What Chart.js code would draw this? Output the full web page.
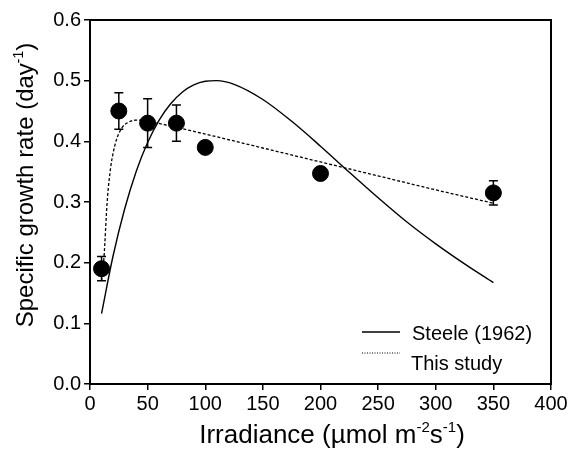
<!DOCTYPE html>
<html>
<head>
<meta charset="utf-8">
<script src="https://cdn.jsdelivr.net/npm/chart.js@4/dist/chart.umd.min.js"></script>
<style>
html,body{margin:0;padding:0;background:#fff;}
#wrap{width:570px;height:452px;position:relative;}
</style>
</head>
<body>
<div id="wrap"><canvas id="c" width="570" height="452"></canvas></div>
<script>
// ---- data ----
const obsX = [10, 25, 50, 75, 100, 200, 350];
const obsY = [0.19, 0.45, 0.43, 0.43, 0.39, 0.347, 0.315];
const errLow = [0.17, 0.42, 0.39, 0.40, 0.39, 0.347, 0.295];
const errHigh = [0.21, 0.48, 0.47, 0.46, 0.39, 0.347, 0.335];

const steeleX = [10, 20, 30, 40, 50, 60, 70, 80, 90, 100, 110, 125, 150, 175, 200, 225, 250, 275, 300, 325, 350];
const steeleY = [0.116, 0.211, 0.288, 0.350, 0.398, 0.435, 0.462, 0.481, 0.493, 0.499, 0.500, 0.494, 0.469, 0.433, 0.392, 0.349, 0.307, 0.267, 0.231, 0.198, 0.167];

const studyX = [10, 12, 15, 18, 20, 23, 28, 33, 40, 50, 75, 100, 150, 200, 250, 300, 350];
const studyY = [0.17, 0.205, 0.303, 0.358, 0.38, 0.403, 0.423, 0.431, 0.435, 0.433, 0.423, 0.412, 0.389, 0.366, 0.343, 0.32, 0.298];

const xTicks = [0, 50, 100, 150, 200, 250, 300, 350, 400];
const yTicks = [0.0, 0.1, 0.2, 0.3, 0.4, 0.5, 0.6];

const seriesNames = ['Steele (1962)', 'This study'];

const FONT = "'Liberation Sans', Arial, Helvetica, sans-serif";

function pts(xs, ys){ return xs.map((x,i)=>({x:x, y:ys[i]})); }

function measureRich(ctx, segs, size, supSize){
  let w = 0;
  segs.forEach(s=>{
    ctx.font = (s.sup ? supSize : size) + 'px ' + FONT;
    w += ctx.measureText(s.t).width;
  });
  return w;
}
function paintRich(ctx, segs, x, y, size, supSize, supRise){
  let cx = x;
  segs.forEach(s=>{
    ctx.font = (s.sup ? supSize : size) + 'px ' + FONT;
    ctx.fillText(s.t, cx, s.sup ? y - supRise : y);
    cx += ctx.measureText(s.t).width;
  });
}

const extras = {
  id: 'extras',
  afterDatasetsDraw(chart){
    const ctx = chart.ctx;
    const xs = chart.scales.x, ys = chart.scales.y;
    ctx.save();
    ctx.strokeStyle = '#000';
    ctx.lineWidth = 1.5;
    obsX.forEach((xv,i)=>{
      if (errHigh[i] === errLow[i]) return;
      const px = xs.getPixelForValue(xv);
      const t = ys.getPixelForValue(errHigh[i]);
      const b = ys.getPixelForValue(errLow[i]);
      ctx.beginPath();
      ctx.moveTo(px, t); ctx.lineTo(px, b);
      ctx.moveTo(px-4.5, t); ctx.lineTo(px+4.5, t);
      ctx.moveTo(px-4.5, b); ctx.lineTo(px+4.5, b);
      ctx.stroke();
    });
    ctx.restore();
  },
  afterDraw(chart){
    const ctx = chart.ctx;
    const a = chart.chartArea;
    ctx.save();
    ctx.strokeStyle = '#000';
    ctx.lineWidth = 2;
    ctx.strokeRect(a.left, a.top, a.right - a.left, a.bottom - a.top);

    ctx.fillStyle = '#000';
    ctx.textBaseline = 'alphabetic';
    ctx.textAlign = 'left';
    // x title
    const xSegs = [{t:'Irradiance (\u00b5mol m'},{t:'-2',sup:true},{t:'s'},{t:'-1',sup:true},{t:')'}];
    const xw = measureRich(ctx, xSegs, 26, 15);
    paintRich(ctx, xSegs, 332 - xw/2, 443, 26, 15, 11);
    // y title
    const ySegs = [{t:'Specific growth rate (day'},{t:'-1',sup:true},{t:')'}];
    const yw = measureRich(ctx, ySegs, 24, 14);
    ctx.translate(33, 185);
    ctx.rotate(-Math.PI/2);
    paintRich(ctx, ySegs, -yw/2, 0, 24, 14, 10);
    ctx.restore();

    // legend
    ctx.save();
    ctx.strokeStyle = '#000';
    ctx.lineWidth = 1.6;
    ctx.beginPath(); ctx.moveTo(362, 332); ctx.lineTo(400, 332); ctx.stroke();
    ctx.lineWidth = 1.2;
    ctx.setLineDash([1,1.5]);
    ctx.beginPath(); ctx.moveTo(362, 353); ctx.lineTo(400, 353); ctx.stroke();
    ctx.setLineDash([]);
    ctx.fillStyle = '#000';
    ctx.font = '20px ' + FONT;
    ctx.textBaseline = 'alphabetic';
    ctx.fillText(seriesNames[0], 412, 340);
    ctx.fillText(seriesNames[1], 411, 370);
    ctx.restore();
  }
};

new Chart(document.getElementById('c'), {
  data: {
    datasets: [
      { type:'line', label: seriesNames[0], data: pts(steeleX, steeleY), borderColor:'#000', borderWidth:1.4, pointRadius:0, fill:false, cubicInterpolationMode:'monotone', order:3 },
      { type:'line', label: seriesNames[1], data: pts(studyX, studyY), borderColor:'#000', borderWidth:1.3, borderDash:[3,2], pointRadius:0, fill:false, cubicInterpolationMode:'monotone', order:2 },
      { type:'scatter', label:'obs', data: pts(obsX, obsY), backgroundColor:'#000', borderColor:'#000', pointRadius:8, pointHoverRadius:8, order:1 }
    ]
  },
  options: {
    responsive:false,
    animation:false,
    devicePixelRatio:1,
    layout:{ padding:{ top:20, right:19, left:0, bottom:0 } },
    plugins:{ legend:{display:false}, tooltip:{enabled:false}, title:{display:false} },
    scales:{
      x:{
        type:'linear', min:0, max:400,
        afterBuildTicks(s){ s.ticks = xTicks.map(v=>({value:v})); },
        afterFit(s){ s.height = 68; },
        ticks:{ color:'#000', font:{family:FONT, size:20}, padding:2, maxRotation:0, callback:v=>String(v) },
        grid:{ drawOnChartArea:false, drawTicks:true, tickLength:6, color:'#000', lineWidth:1.5 },
        border:{ display:true, color:'#000', width:2 }
      },
      y:{
        type:'linear', min:0, max:0.6,
        afterBuildTicks(s){ s.ticks = yTicks.map(v=>({value:v})); },
        afterFit(s){ s.width = 90; },
        ticks:{ color:'#000', font:{family:FONT, size:20}, padding:3, callback:v=>Number(v).toFixed(1) },
        grid:{ drawOnChartArea:false, drawTicks:true, tickLength:6, color:'#000', lineWidth:1.5 },
        border:{ display:true, color:'#000', width:2 }
      }
    }
  },
  plugins:[extras]
});
</script>
</body>
</html>
